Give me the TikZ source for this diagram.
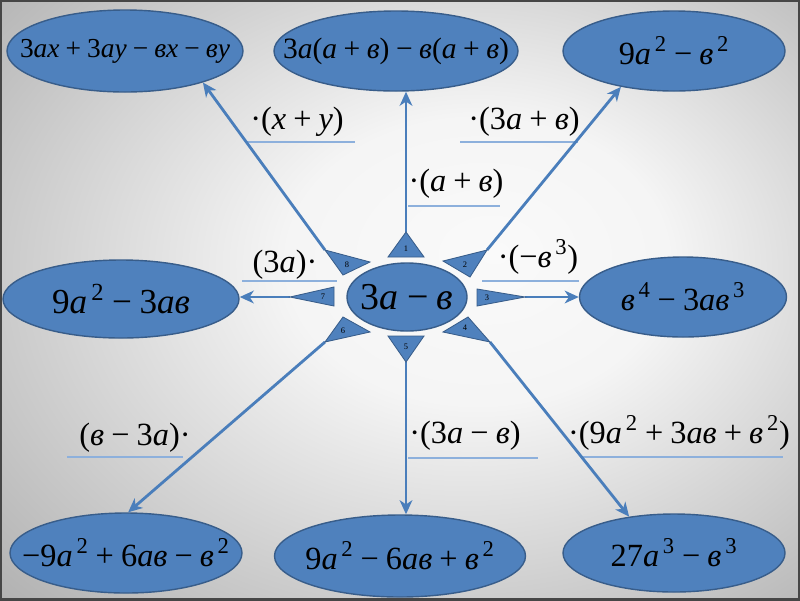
\documentclass[tikz,border=0pt]{standalone}
\usepackage{fontspec}
\setmainfont{Liberation Serif}
\usetikzlibrary{arrows.meta,shapes.geometric}
\definecolor{ellblue}{RGB}{79,129,189}
\definecolor{edgeblue}{RGB}{56,93,138}
\definecolor{arrblue}{RGB}{74,126,187}
\definecolor{ruleblue}{RGB}{141,176,220}
\pgfdeclareradialshading{slidebg}{\pgfpoint{6bp}{4bp}}{color(0bp)=(white!96!gray); color(12bp)=(white!92!gray); color(45bp)=(gray!75!white); color(62bp)=(gray!92!white)}
\newcommand{\ital}[1]{\textit{#1}}
\newcommand{\op}[1]{\hspace{0.22em}#1\hspace{0.22em}}
\newcommand{\sq}[1]{\textsuperscript{\,#1}}
\newcommand{\inell}[1]{\makebox[0pt]{#1}}
\tikzset{
  expr/.style 2 args={ellipse,draw=edgeblue,fill=ellblue,line width=1pt,inner sep=0pt,
    minimum width=#1*0.025cm,minimum height=#2*0.025cm,font=\fontsize{23}{26}\selectfont},
  tri/.style={fill=ellblue,draw=edgeblue,line width=0.6pt},
  num/.style={font=\fontsize{6}{7}\selectfont,inner sep=0pt},
  arr/.style={-{Stealth[length=10pt,width=9pt,inset=3pt]},draw=arrblue,line width=2pt},
  factor/.style={font=\fontsize{23}{26}\selectfont,inner sep=0pt},
  rule/.style={draw=ruleblue,line width=1pt}
}
\begin{document}
\begin{tikzpicture}[x=0.025cm,y=-0.025cm]
  \useasboundingbox (0,0) rectangle (800,600);
  \shade[shading=slidebg] (0,0) rectangle (800,600);
  \draw[draw=gray!55!black,line width=3pt] (0,0) rectangle (800,600);

  % results
  \node[expr={236}{82},font=\fontsize{19.5}{22}\selectfont] (tl) at (125,51) {\inell{3\ital{ax}\op{+}3\ital{ay}\op{−}\ital{вx}\op{−}\ital{вy}}};
  \node[expr={244}{80},font=\fontsize{21}{24}\selectfont] (tc) at (396,51) {\inell{3\ital{a}(\ital{a}\op{+}\ital{в})\op{−}\ital{в}(\ital{a}\op{+}\ital{в})}};
  \node[expr={222}{80}] (tr) at (674,51) {\inell{9\ital{a}\sq{2}\op{−}\ital{в}\sq{2}}};
  \node[expr={236}{78},font=\fontsize{25}{28}\selectfont] (ml) at (121,299) {\inell{9\ital{a}\sq{2}\op{−}3\ital{aв}}};
  \node[expr={207}{80}] (mr) at (683,297) {\inell{\ital{в}\sq{4}\op{−}3\ital{aв}\sq{3}}};
  \node[expr={232}{80}] (bl) at (126,553) {\inell{−9\ital{a}\sq{2}\op{+}6\ital{aв}\op{−}\ital{в}\sq{2}}};
  \node[expr={251}{82}] (bc) at (400,556) {\inell{9\ital{a}\sq{2}\op{−}6\ital{aв}\op{+}\ital{в}\sq{2}}};
  \node[expr={222}{78}] (br) at (674,553) {\inell{27\ital{a}\sq{3}\op{−}\ital{в}\sq{3}}};

  % factors with their lines
  \node[factor] (f1) at (297,122) {·(\ital{x}\op{+}\ital{y})};
  \node[factor] (f2) at (456,184) {·(\ital{a}\op{+}\ital{в})};
  \node[factor] (f3) at (524,122) {·(3\ital{a}\op{+}\ital{в})};
  \node[factor] (f4) at (285,265) {(3\ital{a})·};
  \node[factor] (f5) at (538,257) {·(−\ital{в}\sq{3})};
  \node[factor] (f6) at (135,438) {(\ital{в}\op{−}3\ital{a})·};
  \node[factor] (f7) at (465,436) {·(3\ital{a}\op{−}\ital{в})};
  \node[factor] (f8) at (679,433) {·(9\ital{a}\sq{2}\op{+}3\ital{aв}\op{+}\ital{в}\sq{2})};
  \draw[rule] (247,142) -- (355,142);
  \draw[rule] (408,206) -- (500,206);
  \draw[rule] (460,142) -- (578,142);
  \draw[rule] (242,281) -- (337,281);
  \draw[rule] (482,281) -- (579,281);
  \draw[rule] (67,457) -- (183,457);
  \draw[rule] (408,458) -- (538,458);
  \draw[rule] (583,457) -- (783,457);

  % tips of the rays
  \coordinate (t1) at (406,232);
  \coordinate (t2) at (487,250);
  \coordinate (t3) at (525,297);
  \coordinate (t4) at (490,342);
  \coordinate (t5) at (406,362);
  \coordinate (t6) at (325,342);
  \coordinate (t7) at (290,297);
  \coordinate (t8) at (325,250);

  \draw[arr] (t1) -- (t1 |- tc.south);
  \draw[arr] (t2) -- (tr.-146);
  \draw[arr] (t3) -- (t3 -| mr.west);
  \draw[arr] (t4) -- (br.141);
  \draw[arr] (t5) -- (t5 |- bc.north);
  \draw[arr] (t6) -- (bl.87);
  \draw[arr] (t7) -- (t7 -| ml.east);
  \draw[arr] (t8) -- (tl.-22);

  \draw[tri] (t1) -- (424,257) -- (388,257) -- cycle;
  \draw[tri] (t2) -- (470,277) -- (443,261) -- cycle;
  \draw[tri] (t3) -- (477,306) -- (477,289) -- cycle;
  \draw[tri] (t4) -- (443,332) -- (468,317) -- cycle;
  \draw[tri] (t5) -- (388,336) -- (424,336) -- cycle;
  \draw[tri] (t6) -- (343,317) -- (370,332) -- cycle;
  \draw[tri] (t7) -- (334,287) -- (334,306) -- cycle;
  \draw[tri] (t8) -- (370,262) -- (343,275) -- cycle;
  \node[num] (n1) at (406,249) {1};
  \node[num] (n2) at (465,265) {2};
  \node[num] (n3) at (487,298) {3};
  \node[num] (n4) at (465,328) {4};
  \node[num] (n5) at (406,347) {5};
  \node[num] (n6) at (343,331) {6};
  \node[num] (n7) at (323,297) {7};
  \node[num] (n8) at (347,265) {8};

  % the start expression
  \node[expr={120}{68},font=\fontsize{27}{30}\selectfont] (c) at (407,297) {\inell{3\ital{a}\op{−}\ital{в}}};
\end{tikzpicture}
\end{document}
